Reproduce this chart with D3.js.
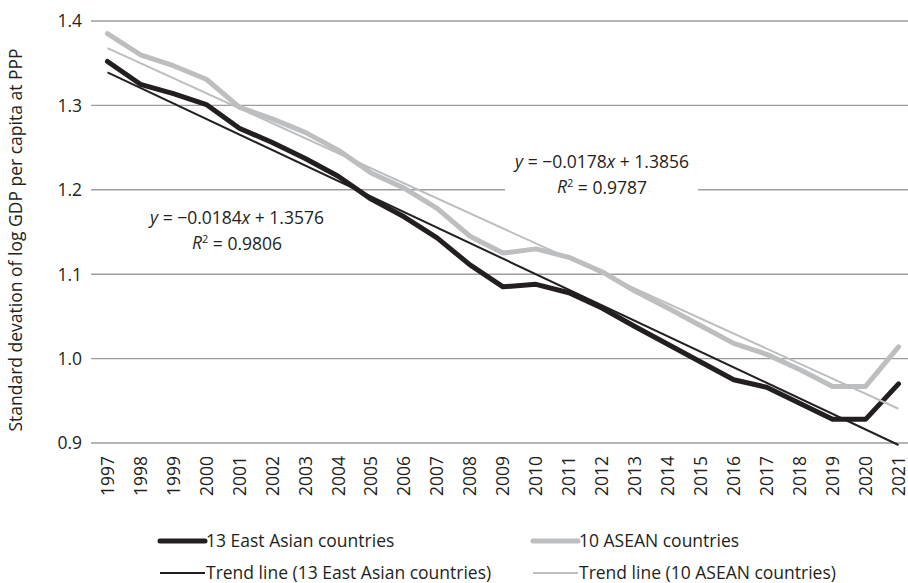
<!DOCTYPE html>
<html>
<head>
<meta charset="utf-8">
<script src="https://cdn.jsdelivr.net/npm/d3@7"></script>
<style>
  html, body { margin: 0; padding: 0; background: #fff; }
  svg { display: block; font-family: "Open Sans", "Noto Sans", sans-serif; }
</style>
</head>
<body>
<svg id="chart" width="908" height="583"></svg>
<script>
// Years on the x axis
const years = ["1997","1998","1999","2000","2001","2002","2003","2004","2005","2006","2007","2008","2009",
               "2010","2011","2012","2013","2014","2015","2016","2017","2018","2019","2020","2021"];

// Standard deviation of log GDP per capita at PPP
const eastAsia13 = [1.352,1.325,1.314,1.301,1.273,1.256,1.237,1.216,1.189,1.168,1.143,1.111,1.085,
                    1.088,1.078,1.060,1.038,1.017,0.996,0.975,0.966,0.947,0.928,0.928,0.970];
const asean10    = [1.385,1.360,1.347,1.331,1.298,1.284,1.268,1.247,1.220,1.202,1.178,1.145,1.125,
                    1.130,1.120,1.103,1.080,1.060,1.039,1.018,1.005,0.987,0.967,0.967,1.014];

// Linear trend coefficients [slope, intercept], x = 1 .. n
const trendEastAsia = [-0.0184, 1.3576];
const trendAsean    = [-0.0178, 1.3856];

const yTicks = [0.9, 1.0, 1.1, 1.2, 1.3, 1.4];

const FS = 17.5;
const svg = d3.select("#chart");
const plotLeft = 91, plotRight = 915, plotTop = 21, plotBottom = 443;

const x = d3.scaleBand().domain(years).range([plotLeft, plotRight]).padding(0);
const xc = d => x(d) + x.bandwidth() / 2;
const y = d3.scaleLinear().domain([0.9, 1.4]).range([plotBottom, plotTop]);

// Horizontal gridlines
svg.append("g").selectAll("line").data(yTicks).join("line")
  .attr("x1", plotLeft).attr("x2", 908)
  .attr("y1", d => y(d)).attr("y2", d => y(d))
  .attr("stroke", "#9d9d9d").attr("stroke-width", 1.4);

// Y tick labels
svg.append("g").selectAll("text").data(yTicks).join("text")
  .attr("x", 82).attr("y", d => y(d)).attr("dy", "0.36em")
  .attr("text-anchor", "end").attr("font-size", FS).attr("fill", "#231f20")
  .text(d => d3.format(".1f")(d));

// X tick labels (rotated)
svg.append("g").selectAll("text").data(years).join("text")
  .attr("transform", d => `translate(${xc(d)},${456}) rotate(-90)`)
  .attr("dy", "0.36em")
  .attr("text-anchor", "end").attr("font-size", FS).attr("fill", "#231f20")
  .text(d => d);

// Y axis title
svg.append("text")
  .attr("transform", `translate(16,240) rotate(-90)`)
  .attr("dy", "0.36em")
  .attr("text-anchor", "middle").attr("font-size", FS).attr("fill", "#231f20")
  .text("Standard devation of log GDP per capita at PPP");

const line = d3.line().x((d, i) => xc(years[i])).y(d => y(d));

const trendPts = c => [1, years.length].map(k => ({ k, v: c[0] * k + c[1] }));
const trendLine = d3.line().x(d => xc(years[d.k - 1])).y(d => y(d.v));

const BLACK = "#231f20", GREY = "#bcbec0";

// White box behind the ASEAN trend equation, masking the gridline
svg.append("rect").attr("x", 505).attr("y", 146).attr("width", 193).attr("height", 50).attr("fill", "#fff");

// Data series
svg.append("path").datum(asean10).attr("d", line)
  .attr("fill", "none").attr("stroke", GREY).attr("stroke-width", 5)
  .attr("stroke-linejoin", "round").attr("stroke-linecap", "round");
svg.append("path").datum(eastAsia13).attr("d", line)
  .attr("fill", "none").attr("stroke", BLACK).attr("stroke-width", 5)
  .attr("stroke-linejoin", "round").attr("stroke-linecap", "round");

// Trend lines
svg.append("path").datum(trendPts(trendAsean)).attr("d", trendLine)
  .attr("fill", "none").attr("stroke", GREY).attr("stroke-width", 2);
svg.append("path").datum(trendPts(trendEastAsia)).attr("d", trendLine)
  .attr("fill", "none").attr("stroke", BLACK).attr("stroke-width", 2);

// Trend equations
function equation(cx, cy, c, r2) {
  const g = svg.append("g").attr("font-size", FS).attr("fill", "#231f20").attr("text-anchor", "middle");
  const t1 = g.append("text").attr("x", cx).attr("y", cy).attr("dy", "0.36em");
  t1.append("tspan").attr("font-style", "italic").text("y");
  t1.append("tspan").text(` = \u2212${Math.abs(c[0]).toFixed(4)}`);
  t1.append("tspan").attr("font-style", "italic").text("x");
  t1.append("tspan").text(` + ${c[1].toFixed(4)}`);
  const t2 = g.append("text").attr("x", cx).attr("y", cy + 25).attr("dy", "0.36em");
  t2.append("tspan").attr("font-style", "italic").text("R");
  t2.append("tspan").attr("font-size", 11).attr("dy", "-0.6em").text("2");
  t2.append("tspan").attr("dy", "0.4em").text(` = ${r2.toFixed(4)}`);
}
equation(237, 218, trendEastAsia, 0.9806);
equation(602, 162, trendAsean, 0.9787);

// Legend
const legend = [
  { label: "13 East Asian countries", color: BLACK, w: 5, x: 160, y: 541 },
  { label: "10 ASEAN countries", color: GREY, w: 5, x: 533, y: 541 },
  { label: "Trend line (13 East Asian countries)", color: BLACK, w: 2, x: 160, y: 573 },
  { label: "Trend line (10 ASEAN countries)", color: GREY, w: 2, x: 533, y: 573 }
];
const lg = svg.append("g").selectAll("g").data(legend).join("g");
lg.append("line")
  .attr("x1", d => d.x).attr("x2", d => d.x + 45)
  .attr("y1", d => d.y).attr("y2", d => d.y)
  .attr("stroke", d => d.color).attr("stroke-width", d => d.w)
  .attr("stroke-linecap", d => d.w > 3 ? "round" : "butt");
lg.append("text")
  .attr("x", d => d.x + 46).attr("y", d => d.y).attr("dy", "0.36em")
  .attr("font-size", FS).attr("fill", "#231f20")
  .text(d => d.label);
</script>
</body>
</html>
